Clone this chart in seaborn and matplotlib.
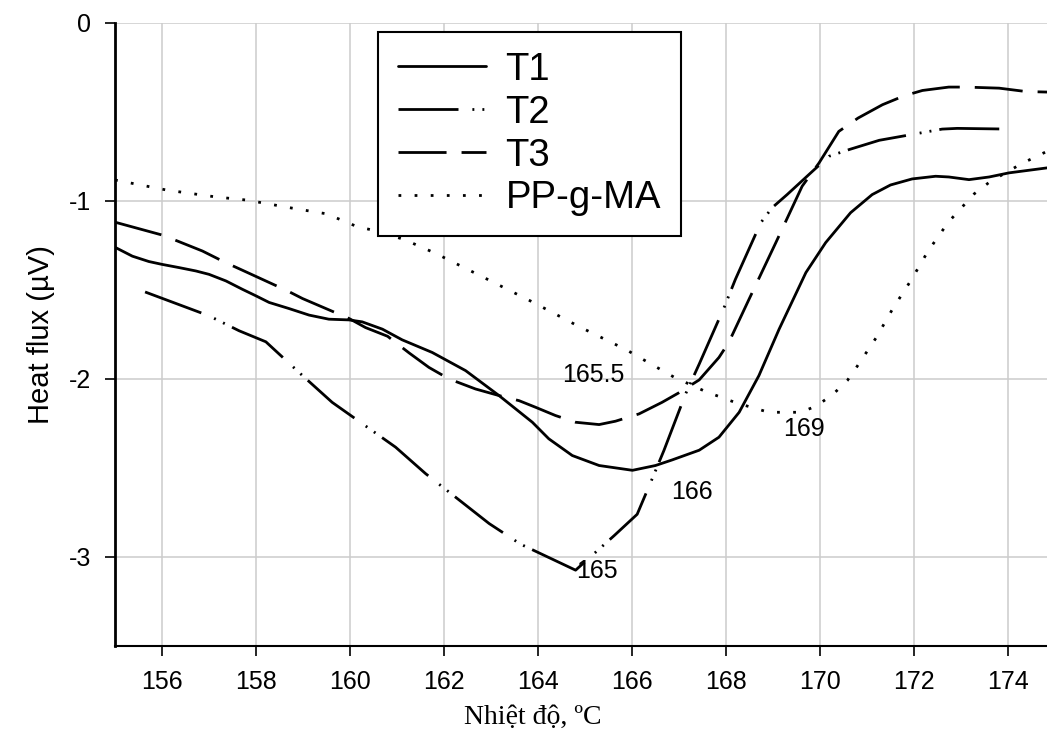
import pandas as pd
import matplotlib
matplotlib.use("Agg")
import matplotlib.pyplot as plt
import seaborn as sns

# values
t1_x = [155.0, 155.37, 155.72, 156.0, 156.36, 156.72, 157.0, 157.36, 157.71, 158.0, 158.28,
        158.7, 159.13, 159.55, 159.98, 160.26, 160.69, 161.11, 161.75, 162.46, 163.17, 163.88,
        164.23, 164.73, 165.3, 166.01, 166.5, 166.85, 167.43, 167.85, 168.28, 168.7, 169.13,
        169.7, 170.12, 170.65, 171.11, 171.5, 171.96, 172.46, 172.74, 173.17, 173.6, 174.02, 174.83]
t1_y = [-1.26, -1.31, -1.34, -1.356, -1.374, -1.393, -1.412, -1.449, -1.496, -1.533, -1.57,
        -1.604, -1.641, -1.664, -1.668, -1.679, -1.72, -1.78, -1.851, -1.953, -2.093, -2.243,
        -2.336, -2.43, -2.486, -2.513, -2.486, -2.455, -2.40, -2.327, -2.187, -1.981, -1.72,
        -1.402, -1.234, -1.066, -0.964, -0.91, -0.876, -0.861, -0.865, -0.88, -0.865, -0.842, -0.814]

t2_x = [155.64, 157.0, 157.64, 158.21, 158.99, 159.62, 160.97, 161.61, 162.96, 163.63, 164.8,
        165.62, 166.11, 166.43, 166.68, 167.14, 167.43, 167.96, 168.2, 168.74, 168.98, 169.3,
        169.84, 170.19, 170.62, 171.26, 172.6, 172.92, 174.02]
t2_y = [-1.511, -1.645, -1.729, -1.791, -1.981, -2.131, -2.383, -2.532, -2.812, -2.928, -3.074,
        -2.88, -2.76, -2.56, -2.401, -2.084, -1.916, -1.598, -1.44, -1.122, -1.038, -0.964,
        -0.833, -0.749, -0.711, -0.659, -0.596, -0.592, -0.596]

t3_x = [155.0, 156.0, 156.33, 156.86, 157.36, 157.67, 158.67, 158.99, 159.98, 160.33, 160.8,
        161.26, 161.68, 162.11, 162.67, 163.17, 163.6, 163.95, 164.37, 164.8, 165.3, 165.65,
        166.15, 166.64, 167.0, 167.43, 167.85, 168.06, 168.49, 169.06, 169.62, 169.98, 170.4,
        170.81, 171.33, 171.79, 172.18, 172.74, 173.1, 173.81, 174.38, 174.83]
t3_y = [-1.119, -1.191, -1.225, -1.281, -1.347, -1.384, -1.505, -1.548, -1.66, -1.711, -1.76,
        -1.854, -1.935, -2.0, -2.056, -2.093, -2.122, -2.159, -2.205, -2.243, -2.256, -2.237,
        -2.196, -2.131, -2.077, -2.005, -1.879, -1.794, -1.552, -1.234, -0.917, -0.786, -0.609,
        -0.534, -0.459, -0.409, -0.379, -0.36, -0.36, -0.366, -0.385, -0.388]

pp_x = [155.0, 156.11, 157.14, 157.81, 158.81, 159.5, 160.16, 160.51, 161.15, 161.82, 162.85,
        163.88, 164.87, 165.88, 166.22, 166.89, 167.57, 168.24, 168.91, 169.59, 169.91, 170.26,
        170.58, 170.79, 171.2, 171.55, 171.94, 172.3, 172.73, 173.28, 173.61, 174.29, 174.83]
pp_y = [-0.882, -0.939, -0.977, -0.995, -1.042, -1.072, -1.145, -1.165, -1.216, -1.294, -1.43,
        -1.567, -1.705, -1.836, -1.888, -1.989, -2.071, -2.136, -2.187, -2.187, -2.153, -2.09,
        -2.009, -1.929, -1.766, -1.604, -1.444, -1.281, -1.119, -0.96, -0.893, -0.79, -0.721]

series_names = ["T1", "T2", "T3", "PP-g-MA"]
peak_labels = ["165.5", "169", "166", "165"]
peak_x = [164.51, 169.21, 166.83, 164.81]
peak_y = [-1.978, -2.28, -2.633, -3.08]
x_ticks = [156, 158, 160, 162, 164, 166, 168, 170, 172, 174]
y_ticks = [0, -1, -2, -3]

sns.set_theme(style="white")
plt.rcParams["font.family"] = ["Liberation Sans", "DejaVu Sans"]
plt.rcParams["axes.unicode_minus"] = False
plt.rcParams["text.color"] = "black"

fig = plt.figure(figsize=(10.47, 7.37), dpi=100)
ax = fig.add_axes([115 / 1047, 91 / 737, (1047 - 115) / 1047, (646 - 23) / 737])

curves = [(t1_x, t1_y), (t2_x, t2_y), (t3_x, t3_y), (pp_x, pp_y)]
styles = ["-", (0, (21.6, 5.0, 0.7, 2.9, 0.7, 2.9)), (0, (17.3, 5.4)), (0, (1.0, 4.8))]
for (xs, ys), name, ls in zip(curves, series_names, styles):
    df = pd.DataFrame({"temp": xs, "flux": ys})
    sns.lineplot(data=df, x="temp", y="flux", ax=ax, color="black",
                 linewidth=2, label=name, estimator=None)
    ax.lines[-1].set_linestyle(ls)

for lab, px, py in zip(peak_labels, peak_x, peak_y):
    ax.text(px, py, lab, fontsize=18, ha="left", va="center", color="black")

ax.set_xlim(155, 155 + (1047 - 115) / 47)
ax.set_ylim(-3.5, 0)
ax.set_xticks(x_ticks)
ax.set_yticks(y_ticks)
ax.set_yticklabels([str(v) for v in y_ticks])
ax.grid(True, color="#cccccc", linewidth=1.1)
ax.set_axisbelow(True)

for side in ["top", "right"]:
    ax.spines[side].set_visible(False)
ax.spines["left"].set_color("black")
ax.spines["left"].set_linewidth(2)
ax.spines["bottom"].set_color("black")
ax.spines["bottom"].set_linewidth(1.5)
ax.tick_params(axis="both", which="major", direction="out", length=7, width=1.2,
               color="black", labelsize=18, labelcolor="black", pad=10, left=True, bottom=True)

ax.set_ylabel("Heat flux (\u00b5V)", fontsize=21, color="black", labelpad=10)
ax.set_xlabel("Nhi\u1ec7t \u0111\u1ed9, \u00baC", fontsize=20, color="black",
              family=["Liberation Serif", "DejaVu Serif"])
ax.xaxis.set_label_coords(0.4485, -0.114)
ax.xaxis.label.set_va("center")

leg = ax.legend(loc="upper left", bbox_to_anchor=(378 / 1047, 1 - 32 / 737),
                bbox_transform=fig.transFigure, borderaxespad=0, fontsize=27.5,
                frameon=True, fancybox=False, shadow=False, edgecolor="black",
                labelcolor="black", handlelength=2.3, handletextpad=0.52,
                labelspacing=0.18, borderpad=0.52)
leg.get_frame().set_linewidth(1.5)
leg.get_frame().set_facecolor("white")
leg.get_frame().set_alpha(1)

fig.savefig("out.png", dpi=100)
